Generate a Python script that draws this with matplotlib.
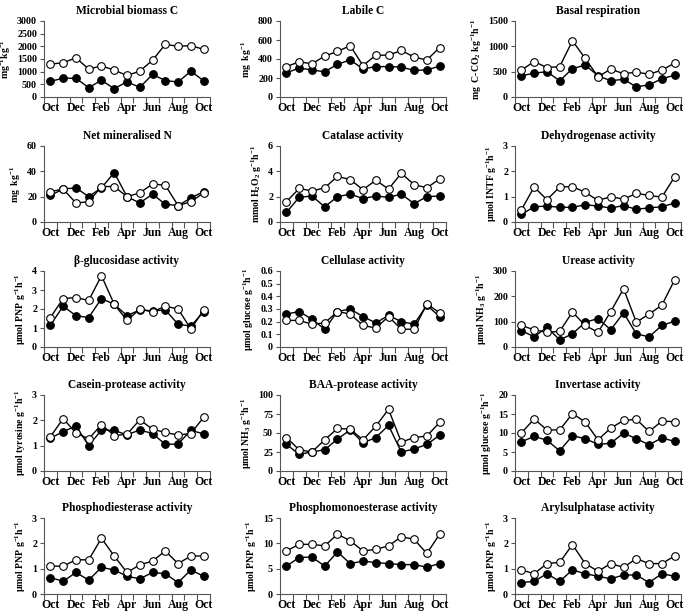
import matplotlib
matplotlib.use("Agg")
import matplotlib.pyplot as plt
from matplotlib.ticker import FuncFormatter

plt.rcParams['font.family'] = ['Liberation Serif', 'DejaVu Serif']
plt.rcParams['font.weight'] = 'bold'
plt.rcParams['mathtext.fontset'] = 'custom'
plt.rcParams['mathtext.rm'] = 'Liberation Serif:bold'
plt.rcParams['mathtext.it'] = 'Liberation Serif:bold'
plt.rcParams['mathtext.bf'] = 'Liberation Serif:bold'

months = ['Oct', 'Nov', 'Dec', 'Jan', 'Feb', 'Mar', 'Apr', 'May', 'Jun', 'Jul', 'Aug', 'Sep', 'Oct']
tick_labels = ['Oct', 'Dec', 'Feb', 'Apr', 'Jun', 'Aug', 'Oct']

titles = ['Microbial biomass C', 'Labile C', 'Basal respiration',
          'Net mineralised N', 'Catalase activity', 'Dehydrogenase activity',
          'β-glucosidase activity', 'Cellulase activity', 'Urease activity',
          'Casein-protease activity', 'BAA-protease activity', 'Invertase activity',
          'Phosphodiesterase activity', 'Phosphomonoesterase activity', 'Arylsulphatase activity']

ylabels = [r'mg$^{-1}$kg$^{-1}$', r'mg  kg$^{-1}$', r'mg  C-CO$_2$ kg$^{-1}$h$^{-1}$',
           r'mg  kg$^{-1}$', r'mmol H$_2$O$_2$ g$^{-1}$h$^{-1}$', r'μmol INTF g$^{-1}$h$^{-1}$',
           r'μmol PNP g$^{-1}$h$^{-1}$', r'μmol glucose g$^{-1}$h$^{-1}$', r'μmol NH$_3$ g$^{-1}$h$^{-1}$',
           r'μmol tyrosine g$^{-1}$h$^{-1}$', r'μmol NH$_3$ g$^{-1}$h$^{-1}$', r'μmol glucose g$^{-1}$h$^{-1}$',
           r'μmol PNP g$^{-1}$h$^{-1}$', r'μmol PNP g$^{-1}$h$^{-1}$', r'μmol PNP g$^{-1}$h$^{-1}$']

ymax = [3000, 800, 1500, 60, 6, 3, 4, 0.6, 300, 3, 100, 20, 3, 15, 3]
ystep = [500, 200, 500, 20, 2, 1, 1, 0.1, 100, 1, 25, 5, 1, 5, 1]

# open circles
open_vals = [
    [1300, 1350, 1550, 1100, 1230, 1060, 850, 1020, 1450, 2080, 2000, 2030, 1880],
    [320, 370, 350, 430, 480, 540, 330, 440, 440, 490, 420, 390, 520],
    [530, 700, 580, 600, 1110, 760, 400, 550, 460, 490, 450, 530, 670],
    [24, 26, 15, 16, 28, 28, 20, 23, 30, 29, 13, 16, 23],
    [1.6, 2.65, 2.45, 2.7, 3.6, 3.35, 2.55, 3.3, 2.6, 3.85, 2.95, 2.7, 3.4],
    [0.48, 1.38, 0.88, 1.38, 1.4, 1.17, 0.85, 1.0, 0.9, 1.13, 1.05, 0.98, 1.78],
    [1.55, 2.55, 2.6, 2.45, 3.75, 2.25, 1.4, 2.0, 1.85, 2.15, 2.0, 0.95, 1.95],
    [0.21, 0.21, 0.18, 0.19, 0.28, 0.26, 0.17, 0.15, 0.24, 0.14, 0.14, 0.34, 0.27],
    [85, 68, 58, 62, 138, 85, 58, 140, 230, 98, 130, 165, 265],
    [1.35, 2.07, 1.5, 1.27, 1.83, 1.4, 1.45, 2.02, 1.65, 1.52, 1.42, 1.48, 2.12],
    [44, 28, 25, 41, 56, 55, 41, 59, 81, 38, 44, 46, 64],
    [10, 13.7, 10.8, 10.8, 15.1, 12.9, 8.2, 11.3, 13.3, 13.6, 10.4, 13.1, 13.0],
    [1.1, 1.1, 1.35, 1.35, 2.2, 1.5, 0.85, 1.15, 1.3, 1.7, 1.2, 1.5, 1.5],
    [8.5, 9.8, 9.8, 9.5, 11.8, 10.5, 8.5, 8.8, 9.5, 11.3, 10.8, 8.0, 11.8],
    [0.95, 0.8, 1.2, 1.25, 1.95, 1.2, 0.9, 1.2, 1.05, 1.4, 1.2, 1.2, 1.5],
]

# filled circles
filled_vals = [
    [620, 740, 740, 370, 660, 330, 600, 380, 890, 650, 590, 1020, 640],
    [255, 305, 285, 265, 345, 390, 295, 320, 320, 315, 280, 285, 325],
    [420, 470, 500, 320, 560, 630, 420, 320, 350, 200, 240, 360, 430],
    [21, 26, 27, 20, 27, 39, 20, 15, 22, 14, 13, 19, 24],
    [0.75, 1.95, 2.05, 1.2, 2.0, 2.2, 1.85, 2.05, 1.95, 2.2, 1.45, 2.0, 2.05],
    [0.3, 0.6, 0.63, 0.58, 0.58, 0.68, 0.63, 0.55, 0.65, 0.5, 0.56, 0.6, 0.75],
    [1.15, 2.15, 1.65, 1.55, 2.55, 2.25, 1.65, 1.95, 1.9, 1.95, 1.2, 1.1, 1.85],
    [0.26, 0.28, 0.22, 0.14, 0.28, 0.30, 0.24, 0.19, 0.25, 0.20, 0.18, 0.33, 0.24],
    [65, 40, 78, 28, 52, 98, 112, 68, 135, 52, 40, 85, 102],
    [1.3, 1.55, 1.78, 1.0, 1.62, 1.6, 1.43, 1.62, 1.48, 1.05, 1.07, 1.6, 1.47],
    [35, 22, 25, 28, 42, 54, 37, 44, 60, 25, 29, 35, 47],
    [7.7, 9.1, 8.1, 5.3, 9.3, 8.5, 7.0, 7.3, 10.0, 8.5, 6.9, 8.7, 7.8],
    [0.65, 0.5, 0.85, 0.55, 1.05, 0.95, 0.7, 0.6, 0.85, 0.8, 0.45, 0.95, 0.7],
    [5.5, 7.2, 7.3, 5.5, 8.3, 6.0, 6.5, 6.2, 6.0, 5.8, 5.8, 5.3, 6.0],
    [0.45, 0.5, 0.8, 0.5, 0.95, 0.8, 0.7, 0.6, 0.75, 0.75, 0.45, 0.8, 0.7],
]

W, H = 685, 614
fig = plt.figure(figsize=(W / 100, H / 100), dpi=100)
col_left = [44, 280, 515]
col_w = 166
row_top = [21, 146, 271, 395, 518]
row_h = 76

x = list(range(len(months)))
for i in range(15):
    r, c = divmod(i, 3)
    ax = fig.add_axes([col_left[c] / W, 1 - (row_top[r] + row_h) / H, col_w / W, row_h / H])
    ax.plot(x, filled_vals[i], color='black', lw=1.0, marker='o', ms=5.5,
            mfc='black', mec='black', mew=0.8, zorder=3)
    ax.plot(x, open_vals[i], color='black', lw=1.0, marker='o', ms=5.5,
            mfc='white', mec='black', mew=0.8, zorder=4)
    ax.set_xlim(-0.5, len(months) - 0.5)
    ax.set_ylim(0, ymax[i])
    n = int(round(ymax[i] / ystep[i]))
    ax.set_yticks([k * ystep[i] for k in range(n + 1)])
    ax.yaxis.set_major_formatter(FuncFormatter(lambda v, p: ('%g' % round(v, 3))))
    ax.set_xticks([k - 0.5 for k in range(len(months) + 1)])
    ax.set_xticklabels([])
    ax.set_xticks([0, 2, 4, 6, 8, 10, 12], minor=True)
    ax.set_xticklabels(tick_labels, minor=True, fontsize=8.5, fontweight='bold')
    ax.tick_params(axis='x', which='minor', length=0, pad=3.5)
    ax.tick_params(axis='x', which='major', length=4, direction='out', color='#555555')
    ax.tick_params(axis='y', length=3, direction='out', color='#555555', labelsize=7.2, pad=2)
    for lab in ax.get_yticklabels():
        lab.set_fontweight('bold')
    for s in ['top', 'right']:
        ax.spines[s].set_visible(False)
    for s in ['left', 'bottom']:
        ax.spines[s].set_color('#555555')
        ax.spines[s].set_linewidth(0.8)
    ax.set_title(titles[i], fontsize=8.3, fontweight='bold', pad=5)
    ax.set_ylabel(ylabels[i], fontsize=7, fontweight='bold', labelpad=3)

fig.savefig('out.png', dpi=100, facecolor='white')
